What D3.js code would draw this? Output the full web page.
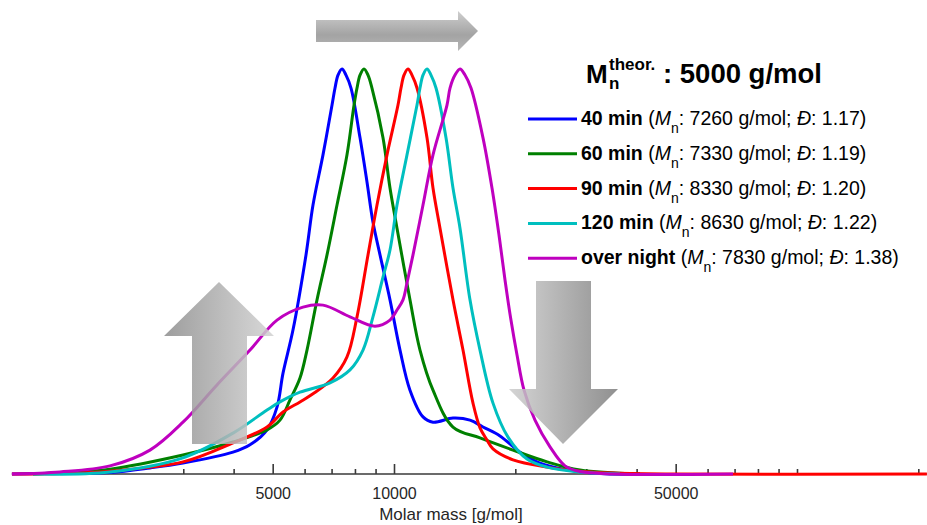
<!DOCTYPE html>
<html>
<head>
<meta charset="utf-8">
<script src="https://cdn.jsdelivr.net/npm/d3@7"></script>
<style>
  body { margin: 0; background: #fff; }
  svg { display: block; font-family: "Liberation Sans", Arial, sans-serif; }
</style>
</head>
<body>
<svg id="chart" width="927" height="525"></svg>
<script>
// GPC traces: [molar mass (g/mol), normalised intensity 0-100]
const trace40 = [[1127,0],[1483,0.2],[1973,0.4],[2480,1.5],[2995,2.7],[3986,5.4],[4392,7.2],[4841,10.9],[5125,16.5],[5304,24.9],[5616,35.6],[6048,54.1],[6295,66.4],[6665,78.8],[7018,91.1],[7139,95.3],[7262,98.5],[7430,100],[7602,98.5],[7822,95.3],[8236,83.0],[8570,72.1],[8867,62.2],[9232,54.1],[9774,43.0],[10349,30.6],[10956,20.7],[11802,14.1],[12496,12.8],[14008,13.8],[15437,13.3],[16628,11.6],[18323,9.4],[20546,5.4],[23030,2.7],[26264,1.2],[32441,0.1],[40775,0]]
const trace60 = [[1271,0],[1483,0.3],[1973,1.2],[2995,4.7],[3986,7.9],[4841,10.9],[5213,13.3],[5520,18.3],[5844,23.7],[6083,30.6],[6441,43.0],[6820,54.1],[7221,66.4],[7645,78.8],[7959,91.1],[8095,95.3],[8235,98.5],[8425,100],[8620,98.5],[8817,95.3],[9391,83.0],[9774,70.6],[10173,60.7],[10956,43.0],[11601,30.6],[12496,20.7],[14008,11.6],[16346,8.9],[19739,5.9],[23971,3.0],[28936,1.0],[40775,0]]
const trace90 = [[1127,0],[1483,0.1],[1973,0.7],[2995,3.0],[3986,7.7],[4841,11.6],[5304,15.3],[5844,17.8],[6295,19.8],[7058,23.7],[7645,28.9],[8095,38.8],[8619,54.1],[9074,66.4],[9608,78.8],[10231,91.1],[10408,95.3],[10588,98.5],[10832,100],[11082,98.5],[11405,95.3],[12075,83.0],[12496,70.6],[13006,60.7],[14008,43.0],[14832,30.6],[15704,17.5],[16346,11.4],[17013,8.4],[17605,6.2],[19739,3.5],[23971,1.7],[28936,0.7],[34943,0.25],[50000,0],[210000,0]]
const trace120 = [[1271,0],[1973,0.5],[2995,4.0],[3986,10.1],[4841,15.8],[5213,17.8],[5844,20.2],[6938,22.5],[7777,25.7],[8377,30.6],[8867,38.8],[9391,48.6],[9774,55.3],[10173,66.4],[10771,78.8],[11405,91.1],[11601,95.3],[11802,98.5],[12075,100],[12354,98.5],[12712,95.3],[13460,83.0],[14008,70.6],[14581,60.7],[15437,43.0],[16346,30.6],[17605,17.5],[19183,9.1],[21380,3.7],[23971,1.7],[28936,0.5],[36373,0]]
const traceNight = [[1127,0],[1483,0.5],[1973,2.0],[2480,5.9],[2995,12.8],[3637,22.0],[4392,30.6],[5125,38.0],[5946,41.2],[6665,41.7],[7777,38.8],[8971,36.5],[9774,38.0],[10173,40.5],[10527,43.0],[10771,47.2],[11147,54.1],[11802,66.4],[12496,78.8],[13536,91.1],[13772,95.3],[14170,98.5],[14581,100],[15004,98.5],[15527,95.3],[16628,83.0],[17505,70.6],[18219,59.0],[18856,47.9],[19509,38.0],[20196,29.4],[21021,20.7],[22381,13.3],[24384,6.7],[26571,2.0],[28936,0.6],[34943,0],[69370,0]]

const seriesNames = ['40 min', '60 min', '90 min', '120 min', 'over night']
const seriesMn = ['7260', '7330', '8330', '8630', '7830']
const seriesD = ['1.17', '1.19', '1.20', '1.22', '1.38']
const colors = ['#0000ff', '#008000', '#ff0000', '#00bfbf', '#bf00bf']

const majorTicks = [5000, 10000, 50000]
const minorTicks = [2000, 3000, 4000, 6000, 7000, 8000, 9000, 20000, 30000, 40000, 60000, 70000, 80000, 90000, 100000, 200000]
const massExtent = [1127, 210000]

const svg = d3.select('#chart')
const x = d3.scaleLog().domain([1000, 100000]).range([-9, 797])
const y = d3.scaleLinear().domain([0, 100]).range([474, 69])

// gradients for the grey arrows
const defs = svg.append('defs')
function grad(id, x2, y2, stops) {
    const g = defs.append('linearGradient').attr('id', id)
        .attr('x1', 0).attr('y1', 0).attr('x2', x2).attr('y2', y2)
    stops.forEach(s => g.append('stop').attr('offset', s[0]).attr('stop-color', s[1]))
}
grad('gUp', 1, 0, [[0, '#8c8c8c'], [1, '#d2d2d2']])
grad('gDown', 1, 0, [[0, '#cdcdcd'], [1, '#7c7c7c']])
grad('gRight', 0, 1, [[0, '#c6c6c6'], [0.6, '#939393'], [1, '#aaaaaa']])

// x axis
const axisG = svg.append('g').attr('transform', `translate(0,${y(0)})`)
axisG.append('line')
    .attr('x1', x(massExtent[0])).attr('x2', x(massExtent[1]))
    .attr('stroke', '#3a3a3a').attr('stroke-width', 1.6)

const minorAxis = d3.axisBottom(x).tickValues(minorTicks).tickSize(-5).tickFormat('')
const majorAxis = d3.axisBottom(x).tickValues(majorTicks).tickSize(-10).tickPadding(14).tickFormat(d3.format('d'))
axisG.append('g').call(minorAxis)
axisG.append('g').call(majorAxis)
axisG.selectAll('.domain').remove()
axisG.selectAll('.tick line').attr('stroke', '#3a3a3a').attr('stroke-width', 1.6)
axisG.selectAll('.tick text').attr('fill', '#262626')
    .style('font-family', '"Liberation Sans", Arial, sans-serif').style('font-size', '16px')

svg.append('text')
    .attr('x', 451).attr('y', 520)
    .attr('text-anchor', 'middle')
    .attr('fill', '#262626')
    .style('font-size', '17px')
    .text('Molar mass [g/mol]')

// traces
const line = d3.line()
    .x(d => x(d[0]))
    .y(d => y(d[1]))
    .curve(d3.curveCatmullRom.alpha(0.5))

const traces = [trace40, trace60, trace90, trace120, traceNight]
svg.append('g').selectAll('path')
    .data(traces)
    .join('path')
    .attr('d', line)
    .attr('fill', 'none')
    .attr('stroke', (d, i) => colors[i])
    .attr('stroke-width', 3)
    .attr('stroke-linejoin', 'round')

// arrows (annotation only)
const arrows = [
    { fill: 'url(#gUp)', pts: [[219,282],[274,336],[247,336],[247,444],[192,444],[192,336],[164,336]] },
    { fill: 'url(#gDown)', pts: [[536,281],[591,281],[591,389],[618,389],[563,444],[509,389],[536,389]] },
    { fill: 'url(#gRight)', pts: [[316,20],[458,20],[458,11],[478,31],[458,51],[458,42],[316,42]] }
]
svg.append('g').selectAll('polygon')
    .data(arrows)
    .join('polygon')
    .attr('points', d => d.pts.map(p => p.join(',')).join(' '))
    .attr('fill', d => d.fill)
    .attr('opacity', 0.85)

// title
const title = svg.append('g').attr('font-weight', 'bold').attr('fill', '#000')
title.append('text').attr('x', 586).attr('y', 83).style('font-size', '26px').text('M')
title.append('text').attr('x', 609).attr('y', 70).style('font-size', '17px').text('theor.')
title.append('text').attr('x', 609).attr('y', 89).style('font-size', '17px').text('n')
title.append('text').attr('x', 663).attr('y', 83).style('font-size', '27.5px').text(': 5000 g/mol')

// legend
const legend = svg.append('g')
seriesNames.forEach((name, i) => {
    const ly = 119 + i * 34.8
    legend.append('line')
        .attr('x1', 528).attr('x2', 577).attr('y1', ly).attr('y2', ly)
        .attr('stroke', colors[i]).attr('stroke-width', 3)
    const t = legend.append('text').attr('x', 581).attr('y', ly + 6)
        .attr('fill', '#000').style('font-size', '19.5px')
    t.append('tspan').attr('font-weight', 'bold').text(name)
    t.append('tspan').text(' (')
    t.append('tspan').attr('font-style', 'italic').text('M')
    t.append('tspan').attr('dy', 8).style('font-size', '14px').text('n')
    t.append('tspan').attr('dy', -8).text(`: ${seriesMn[i]} g/mol; `)
    t.append('tspan').attr('font-style', 'italic').text('Đ')
    t.append('tspan').text(`: ${seriesD[i]})`)
})
</script>
</body>
</html>
